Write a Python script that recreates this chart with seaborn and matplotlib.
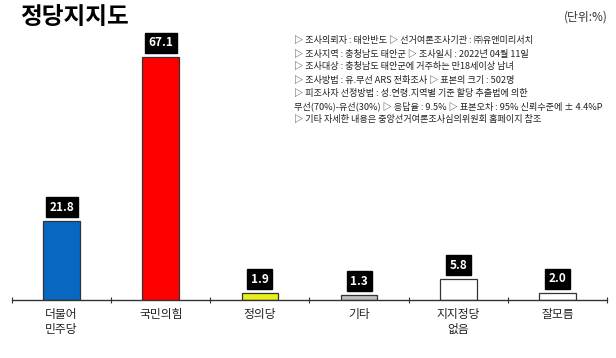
import pandas as pd
import matplotlib
matplotlib.use("Agg")
import matplotlib.pyplot as plt
import seaborn as sns

parties = ['더불어\n민주당', '국민의힘', '정의당', '기타', '지지정당\n없음', '잘모름']
support = [21.8, 67.1, 1.9, 1.3, 5.8, 2.0]
bar_colors = ['#0867c0', '#ff0000', '#e8f01c', '#c0c0c0', '#ffffff', '#ffffff']

title = '정당지지도'
unit_text = '(단위:%)'
notes = [
    '▷ 조사의뢰자 : 태안반도 ▷ 선거여론조사기관 : ㈜유앤미리서치',
    '▷ 조사지역 : 충청남도 태안군 ▷ 조사일시 : 2022년 04월 11일',
    '▷ 조사대상 : 충청남도 태안군에 거주하는 만18세이상 남녀',
    '▷ 조사방법 : 유.무선 ARS 전화조사 ▷ 표본의 크기 : 502명',
    '▷ 피조사자 선정방법 : 성.연령.지역별 기준 할당 추출법에 의한',
    '무선(70%)-유선(30%) ▷ 응답율 : 9.5% ▷ 표본오차 : 95% 신뢰수준에 ± 4.4%P',
    '▷ 기타 자세한 내용은 중앙선거여론조사심의위원회 홈페이지 참조',
]

sns.set_theme(style='white')
plt.rcParams['font.family'] = ['Noto Sans CJK KR', 'DejaVu Sans']

df = pd.DataFrame({'party': parties, 'support': support})

fig = plt.figure(figsize=(6.16, 3.58), dpi=100)
ax = fig.add_axes([12 / 616, 58 / 358, 595 / 616, 290 / 358])

sns.barplot(data=df, x='party', y='support', hue='party', palette=bar_colors,
            saturation=1, legend=False, width=0.37, edgecolor='#333333', linewidth=0.9, ax=ax)

for i, v in enumerate(support):
    ax.annotate(f'{v:.1f}', (i, v), xytext=(0, 10), textcoords='offset points',
                ha='center', va='center', color='white', fontsize=8.5, fontweight='bold',
                bbox=dict(boxstyle='square,pad=0.3', fc='black', ec='black'))

ax.set_ylim(0, 80)
ax.set_xlim(-0.5, len(parties) - 0.5)
ax.set_xlabel('')
ax.set_ylabel('')
ax.set_yticks([])
for s in ['top', 'left', 'right']:
    ax.spines[s].set_visible(False)
ax.spines['bottom'].set_color('#333333')
ax.spines['bottom'].set_linewidth(1.0)
ax.set_xticks([i - 0.5 for i in range(len(parties) + 1)], minor=True)
ax.tick_params(axis='x', which='minor', direction='inout', length=5, color='#333333', width=0.8, bottom=True)
ax.tick_params(axis='x', which='major', length=0, labelsize=8.5, pad=6, labelcolor='#222222')

fig.text(20 / 616, 1 - 17 / 358, title, fontsize=17, fontweight='heavy', fontstyle='italic',
         va='center', ha='left', color='black')
fig.text(1 - 8 / 616, 1 - 17 / 358, unit_text, fontsize=8.5, va='center', ha='right', color='#333333')

y0 = 41
for k, line in enumerate(notes):
    fig.text(294 / 616, 1 - (y0 + k * 13) / 358, line, fontsize=6.6, va='center', ha='left', color='#222222')

fig.savefig('out.png', dpi=100)
